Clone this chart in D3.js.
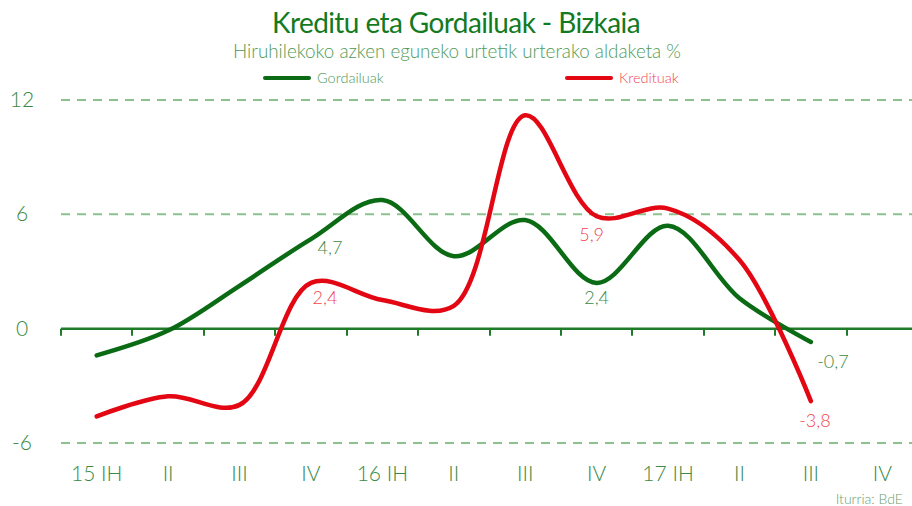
<!DOCTYPE html>
<html>
<head>
<meta charset="utf-8">
<script src="https://cdn.jsdelivr.net/npm/d3@7"></script>
<style>
  html, body { margin: 0; padding: 0; background: #fff; }
  svg { display: block; font-family: Lato, "Open Sans", sans-serif; }
</style>
</head>
<body>
<svg id="chart" width="912" height="506"></svg>
<script>
// ---- data ----
const categories = ["15 IH", "II", "III", "IV", "16 IH", "II", "III", "IV", "17 IH", "II", "III", "IV"];
const gordailuak = [-1.4, -0.1, 2.25, 4.7, 6.75, 3.8, 5.7, 2.4, 5.4, 1.6, -0.7];
const kredituak  = [-4.6, -3.55, -4.0, 2.4, 1.5, 1.2, 11.2, 5.9, 6.3, 3.6, -3.8];
const yTicks = [-6, 0, 6, 12];
const gordailuakLabels = [3, 7, 10];   // indices of labelled points
const kredituakLabels  = [3, 7, 10];
const title = "Kreditu eta Gordailuak - Bizkaia";
const subtitle = "Hiruhilekoko azken eguneko urtetik urterako aldaketa %";
const source = "Iturria: BdE";

// ---- layout ----
const svg = d3.select("#chart");
const x = d3.scaleBand().domain(d3.range(categories.length)).range([61, 918]);
const y = d3.scaleLinear().domain([-6, 12]).range([443, 100]);
const cx = i => x(i) + x.bandwidth() / 2;

const C = {
  green: "#0a6b14", red: "#e30613",
  greenText: "#3a8a45", redText: "#f0454f",
  grid: "#8fc18f", axis: "#1f7a2a", title: "#137a1f"
};

// title
svg.append("text").attr("x", 456).attr("y", 33).attr("text-anchor", "middle")
  .attr("font-size", 28).attr("fill", C.title).attr("letter-spacing", -0.6).text(title);
svg.append("text").attr("x", 457).attr("y", 58).attr("text-anchor", "middle")
  .attr("font-size", 18.8).attr("font-weight", 300).attr("fill", "#4e9a56").text(subtitle);

// legend
const legend = [
  { name: "Gordailuak", color: C.green, text: "#4e9a56", x: 265 },
  { name: "Kredituak", color: C.red, text: "#f0454f", x: 567 }
];
legend.forEach(l => {
  svg.append("line").attr("x1", l.x).attr("x2", l.x + 44).attr("y1", 78).attr("y2", 78)
    .attr("stroke", l.color).attr("stroke-width", 4).attr("stroke-linecap", "round");
  svg.append("text").attr("x", l.x + 52).attr("y", 83).attr("font-size", 14.5)
    .attr("font-weight", 300).attr("fill", l.text).text(l.name);
});

// grid
svg.append("g").selectAll("line").data(yTicks.filter(d => d !== 0)).join("line")
  .attr("x1", 61).attr("x2", 912).attr("y1", d => y(d)).attr("y2", d => y(d))
  .attr("stroke", C.grid).attr("stroke-width", 2).attr("stroke-dasharray", "9,7");

// y labels
svg.append("g").selectAll("text").data(yTicks).join("text")
  .attr("x", 22).attr("y", d => y(d) + 7).attr("text-anchor", "middle")
  .attr("font-size", 21).attr("font-weight", 300).attr("fill", C.greenText).text(d => d);

// zero axis with ticks
svg.append("line").attr("x1", 61).attr("x2", 912).attr("y1", y(0)).attr("y2", y(0))
  .attr("stroke", C.axis).attr("stroke-width", 2.5);
svg.append("g").selectAll("line").data(d3.range(categories.length)).join("line")
  .attr("x1", d => Math.round(x(d))).attr("x2", d => Math.round(x(d)))
  .attr("y1", y(0)).attr("y2", y(0) + 7)
  .attr("stroke", C.axis).attr("stroke-width", 2);

// x labels
svg.append("g").selectAll("text").data(categories).join("text")
  .attr("x", (d, i) => cx(i)).attr("y", 481).attr("text-anchor", "middle")
  .attr("font-size", 21).attr("font-weight", 300).attr("fill", C.greenText).text(d => d);

// lines
const line = d3.line().x((d, i) => cx(i)).y(d => y(d)).curve(d3.curveCatmullRom.alpha(0.5));
svg.append("path").datum(gordailuak).attr("d", line).attr("fill", "none")
  .attr("stroke", C.green).attr("stroke-width", 4.5).attr("stroke-linecap", "round");
svg.append("path").datum(kredituak).attr("d", line).attr("fill", "none")
  .attr("stroke", C.red).attr("stroke-width", 4.5).attr("stroke-linecap", "round");

// data labels
const fmt = v => String(v).replace(".", ",");
const labelOffsets = { g: [[19, 15], [0, 21], [22, 26]], r: [[14, 21], [-5, 25], [4, 26]] };
gordailuakLabels.forEach((i, k) => {
  svg.append("text").attr("x", cx(i) + labelOffsets.g[k][0]).attr("y", y(gordailuak[i]) + labelOffsets.g[k][1])
    .attr("text-anchor", "middle").attr("font-size", 18).attr("font-weight", 300)
    .attr("fill", C.greenText).text(fmt(gordailuak[i]));
});
kredituakLabels.forEach((i, k) => {
  svg.append("text").attr("x", cx(i) + labelOffsets.r[k][0]).attr("y", y(kredituak[i]) + labelOffsets.r[k][1])
    .attr("text-anchor", "middle").attr("font-size", 18).attr("font-weight", 300)
    .attr("fill", C.redText).text(fmt(kredituak[i]));
});

// source
svg.append("text").attr("x", 903).attr("y", 504).attr("text-anchor", "end")
  .attr("font-size", 14).attr("font-weight", 300).attr("fill", "#6aa06f").text(source);
</script>
</body>
</html>
